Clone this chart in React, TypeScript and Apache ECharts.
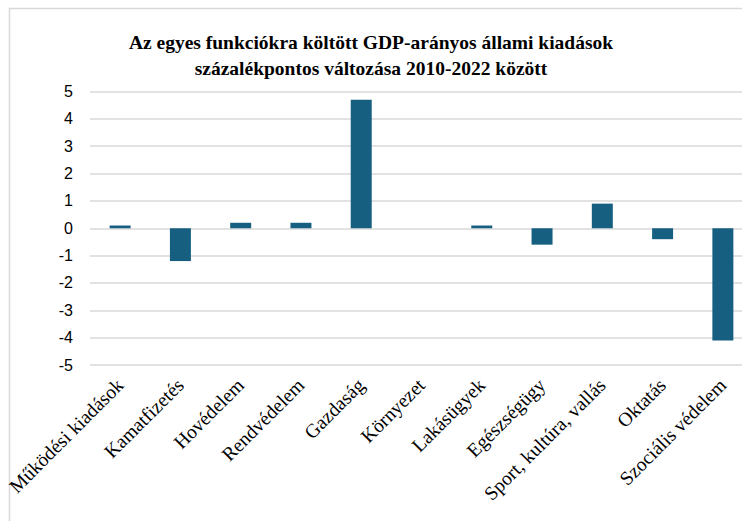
import React, { useEffect, useRef } from "react";
import * as echarts from "echarts";

const categories = [
  "Működési kiadások",
  "Kamatfizetés",
  "Hovédelem",
  "Rendvédelem",
  "Gazdaság",
  "Környezet",
  "Lakásügyek",
  "Egészségügy",
  "Sport, kultúra, vallás",
  "Oktatás",
  "Szociális védelem",
];
const values = [0.1, -1.2, 0.2, 0.2, 4.7, 0, 0.1, -0.6, 0.9, -0.4, -4.1];
const titleText =
  "Az egyes funkciókra költött GDP-arányos állami kiadások\nszázalékpontos változása 2010-2022 között";

export default function App() {
  const ref = useRef<HTMLDivElement>(null);
  useEffect(() => {
    if (!ref.current) return;
    const chart = echarts.init(ref.current, null, { renderer: "svg" });
    chart.setOption({
      animation: false,
      backgroundColor: "#ffffff",
      title: {
        text: titleText,
        left: "center",
        top: 24,
        textStyle: {
          fontFamily: "Liberation Serif",
          fontWeight: "bold",
          fontSize: 19.5,
          lineHeight: 26,
          color: "#000000",
        },
      },
      graphic: [
        {
          type: "rect",
          shape: { x: 9.5, y: 8.5, width: 800, height: 600 },
          style: { fill: "none", stroke: "#d9d9d9", lineWidth: 1.5 },
          silent: true,
        },
      ],
      grid: {
        left: 90,
        width: 663,
        top: 91.5,
        bottom: 156,
        containLabel: false,
        outerBoundsMode: "none",
      },
      xAxis: {
        type: "category",
        data: categories,
        position: "bottom",
        axisLine: { show: false },
        axisTick: { show: false },
        axisLabel: {
          rotate: 45,
          interval: 0,
          margin: 17,
          fontFamily: "Liberation Serif",
          fontSize: 19.5,
          color: "#000000",
        },
      },
      yAxis: {
        type: "value",
        min: -5,
        max: 5,
        interval: 1,
        axisLine: { show: false },
        axisTick: { show: false },
        splitLine: { lineStyle: { color: "#d9d9d9", width: 1.5 } },
        axisLabel: {
          margin: 17,
          fontFamily: "Liberation Sans Narrow, Liberation Sans, Arial",
          fontSize: 16,
          color: "#000000",
        },
      },
      series: [
        {
          type: "bar",
          data: values,
          barWidth: 21,
          itemStyle: { color: "#175f80" },
        },
      ],
    });
    return () => chart.dispose();
  }, []);
  return (
    <div
      ref={ref}
      style={{ position: "fixed", left: 0, top: 0, width: 742, height: 521 }}
    />
  );
}
